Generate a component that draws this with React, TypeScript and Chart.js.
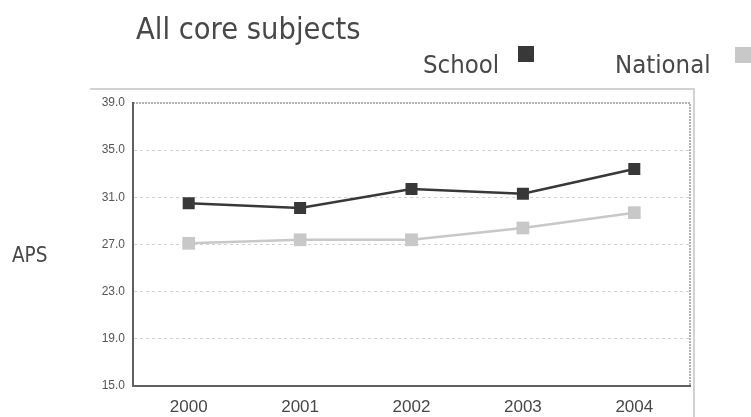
import React, { useEffect, useRef } from "react";
import { Chart, registerables } from "chart.js";

Chart.register(...registerables);

// Average point score per year, core subjects
const years = ["2000", "2001", "2002", "2003", "2004"];
const schoolAps = [30.5, 30.1, 31.7, 31.3, 33.4];
const nationalAps = [27.1, 27.4, 27.4, 28.4, 29.7];
const yTicks = [15, 19, 23, 27, 31, 35, 39];

const titleText = "All core subjects";
const axisTitle = "APS";
const schoolLabel = "School";
const nationalLabel = "National";

const SCHOOL_COLOR = "#383838";
const NATIONAL_COLOR = "#c8c8c8";
const TEXT_COLOR = "#484848";
const HEAD_FONT = '"DejaVu Sans Condensed", "DejaVu Sans", sans-serif';

// Draws text in a narrow humanist face; falls back to a horizontally
// condensed DejaVu Sans if the condensed family is not installed.
function drawNarrowText(ctx: CanvasRenderingContext2D, text: string, x: number, y: number, size: number) {
  ctx.save();
  ctx.font = `${size}px "DejaVu Sans Condensed"`;
  const wCond = ctx.measureText(text).width;
  ctx.font = `${size}px "DejaVu Sans"`;
  const wReg = ctx.measureText(text).width;
  const hasCondensed = Math.abs(wCond - wReg) > 0.5;
  ctx.font = `${size}px ${HEAD_FONT}`;
  ctx.fillStyle = TEXT_COLOR;
  ctx.textBaseline = "alphabetic";
  ctx.textAlign = "left";
  ctx.translate(x, y);
  if (!hasCondensed) ctx.scale(0.9, 1);
  ctx.fillText(text, 0, 0);
  ctx.restore();
}

const decorPlugin = {
  id: "decor",
  beforeDraw(chart: any) {
    const { ctx, chartArea } = chart;
    const { left, right, top, bottom } = chartArea;
    ctx.save();
    // outer frame (top and right edges)
    ctx.strokeStyle = "#c4c4c4";
    ctx.lineWidth = 1.5;
    ctx.beginPath();
    ctx.moveTo(90, top - 14);
    ctx.lineTo(right + 4, top - 14);
    ctx.lineTo(right + 4, chart.height);
    ctx.stroke();
    // plot border, top and right
    ctx.strokeStyle = "#9a9a9a";
    ctx.lineWidth = 1.5;
    ctx.setLineDash([2, 1]);
    ctx.beginPath();
    ctx.moveTo(left, top);
    ctx.lineTo(right, top);
    ctx.lineTo(right, bottom);
    ctx.stroke();
    ctx.restore();
  },
  afterDraw(chart: any) {
    const { ctx } = chart;
    drawNarrowText(ctx, titleText, 136, 39, 30.5);
    drawNarrowText(ctx, schoolLabel, 423, 73, 25.5);
    drawNarrowText(ctx, nationalLabel, 615, 73, 25.5);
    drawNarrowText(ctx, axisTitle, 12, 262, 20.5);
    ctx.save();
    ctx.fillStyle = SCHOOL_COLOR;
    ctx.fillRect(518, 46, 16, 16);
    ctx.fillStyle = NATIONAL_COLOR;
    ctx.fillRect(735, 47, 16, 16);
    ctx.restore();
  },
};

export default function App() {
  const canvasRef = useRef<HTMLCanvasElement | null>(null);

  useEffect(() => {
    const canvas = canvasRef.current;
    if (!canvas) return;
    const chart = new Chart(canvas, {
      type: "line",
      data: {
        labels: years,
        datasets: [
          {
            label: nationalLabel,
            data: nationalAps,
            borderColor: NATIONAL_COLOR,
            backgroundColor: NATIONAL_COLOR,
            borderWidth: 2.5,
            pointStyle: "rect",
            pointRadius: 9,
            pointBorderWidth: 0,
            tension: 0,
          },
          {
            label: schoolLabel,
            data: schoolAps,
            borderColor: SCHOOL_COLOR,
            backgroundColor: SCHOOL_COLOR,
            borderWidth: 2.5,
            pointStyle: "rect",
            pointRadius: 8.5,
            pointBorderWidth: 0,
            tension: 0,
          },
        ],
      },
      options: {
        animation: false,
        responsive: true,
        maintainAspectRatio: false,
        layout: { padding: { left: 0, top: 103, right: 61, bottom: 0 } },
        plugins: {
          legend: { display: false },
          title: { display: false },
          tooltip: { enabled: false },
        },
        scales: {
          x: {
            offset: true,
            grid: { display: false },
            border: { display: true, color: "#606060", width: 2 },
            ticks: {
              color: TEXT_COLOR,
              padding: 3,
              font: { family: '"Liberation Sans", Arial, sans-serif', size: 17 },
            },
            afterFit: (scale: any) => {
              scale.height = 31;
            },
          },
          y: {
            min: 15,
            max: 39,
            afterBuildTicks: (scale: any) => {
              scale.ticks = yTicks.map((v) => ({ value: v }));
            },
            grid: {
              drawTicks: false,
              lineWidth: 1,
              color: (c: any) =>
                c.tick && (c.tick.value === 15 || c.tick.value === 39) ? "rgba(0,0,0,0)" : "#d2d2d2",
            },
            border: { display: true, color: "#606060", width: 2, dash: [3, 3] },
            ticks: {
              color: "#555555",
              padding: 8,
              font: { family: '"Liberation Sans", Arial, sans-serif', size: 12 },
              callback: (v: any) => Number(v).toFixed(1),
            },
            afterFit: (scale: any) => {
              scale.width = 133;
            },
          },
        },
      },
      plugins: [decorPlugin],
    });
    return () => chart.destroy();
  }, []);

  return (
    <div style={{ position: "fixed", left: 0, top: 0, width: 751, height: 417, background: "#ffffff" }}>
      <canvas ref={canvasRef} />
    </div>
  );
}
